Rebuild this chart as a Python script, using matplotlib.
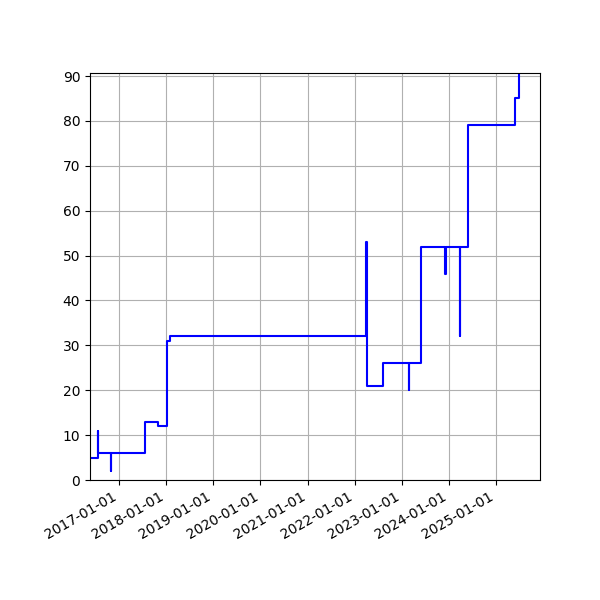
import matplotlib
matplotlib.use("Agg")
import matplotlib.pyplot as plt
import matplotlib.dates as mdates
from matplotlib.ticker import MultipleLocator
import pandas as pd

# change points of the series (step drawn "post")
dates = ["2016-05-01", "2016-07-22", "2016-07-23", "2016-10-26", "2016-10-27",
         "2017-07-19", "2017-10-26", "2018-01-05", "2018-01-30",
         "2022-04-01", "2022-04-03", "2022-08-08", "2023-02-26", "2023-02-27",
         "2023-05-29", "2023-12-06", "2023-12-07", "2024-03-30", "2024-03-31",
         "2024-05-28", "2025-05-26", "2025-06-26"]
values = [5, 11, 6, 2, 6,
          13, 12, 31, 32,
          53, 21, 26, 20, 26,
          52, 46, 52, 32, 52,
          79, 85, 95]

dates = pd.to_datetime(dates)

fig, ax = plt.subplots(figsize=(6, 6), dpi=100)
fig.subplots_adjust(left=0.15, right=0.9, top=0.879, bottom=0.2)

ax.step(dates, values, where="post", color="b", linewidth=1.5)

ax.set_xlim(pd.Timestamp("2016-05-19"), pd.Timestamp("2025-12-08"))
ax.set_ylim(0, 90.76)
ax.yaxis.set_major_locator(MultipleLocator(10))
ax.xaxis.set_major_locator(mdates.YearLocator())
ax.xaxis.set_major_formatter(mdates.DateFormatter("%Y-%m-%d"))
ax.grid(True)

for lbl in ax.get_xticklabels():
    lbl.set_rotation(30)
    lbl.set_ha("right")

plt.savefig("out.png", dpi=100)
